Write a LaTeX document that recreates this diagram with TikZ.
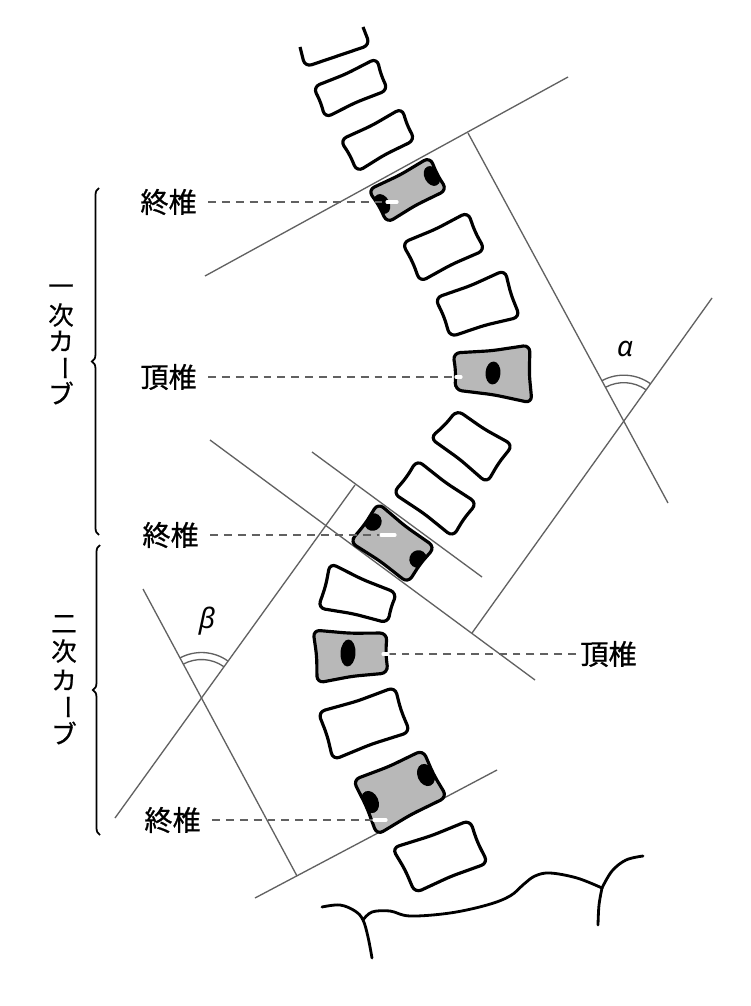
\documentclass[tikz,border=0pt]{standalone}
\usepackage{fontspec}
\newfontfamily\jp{Noto Sans CJK JP}[FakeBold=0.8]
\newfontfamily\grk{Noto Sans}
\usetikzlibrary{calc,decorations.pathreplacing}
\definecolor{vshade}{gray}{0.72}
\definecolor{thin}{gray}{0.38}
\newcommand\vbar{\rotatebox[origin=c]{-90}{ー}}
% white vertebra: four corners, clockwise on the page
\newcommand\wv[4]{\draw[vline,fill=white] ($(#4)!.5!(#1)!1pt!-90:(#1)$) -- (#1) -- ($(#1)!.5!(#2)!1pt!-90:(#2)$) -- (#2) -- ($(#2)!.5!(#3)!1pt!-90:(#3)$) -- (#3) -- ($(#3)!.5!(#4)!1pt!-90:(#4)$) -- (#4) -- cycle;}
% shaded vertebra: four corners + spot code (clipped)
\newcommand\sv[5]{%
\fill[vshade,rounded corners=4pt] ($(#4)!.5!(#1)!1pt!-90:(#1)$) -- (#1) -- ($(#1)!.5!(#2)!1pt!-90:(#2)$) -- (#2) -- ($(#2)!.5!(#3)!1pt!-90:(#3)$) -- (#3) -- ($(#3)!.5!(#4)!1pt!-90:(#4)$) -- (#4) -- cycle;
\begin{scope}
\clip[rounded corners=4pt] ($(#4)!.5!(#1)!1pt!-90:(#1)$) -- (#1) -- ($(#1)!.5!(#2)!1pt!-90:(#2)$) -- (#2) -- ($(#2)!.5!(#3)!1pt!-90:(#3)$) -- (#3) -- ($(#3)!.5!(#4)!1pt!-90:(#4)$) -- (#4) -- cycle;
#5
\end{scope}
\draw[vline] ($(#4)!.5!(#1)!1pt!-90:(#1)$) -- (#1) -- ($(#1)!.5!(#2)!1pt!-90:(#2)$) -- (#2) -- ($(#2)!.5!(#3)!1pt!-90:(#3)$) -- (#3) -- ($(#3)!.5!(#4)!1pt!-90:(#4)$) -- (#4) -- cycle;}
\begin{document}
\begin{tikzpicture}[x=0.02cm,y=-0.02cm,
  vline/.style={line width=1.8pt,rounded corners=4pt,line join=round},
  thinl/.style={draw=thin,line width=0.75pt},
  lead/.style={draw=thin,line width=0.9pt,dash pattern=on 4.5pt off 3.4pt},
  endmark/.style={draw=white,line width=1.8pt,line cap=round},
  lab/.style={font=\jp\fontsize{16}{18}\selectfont,inner sep=0pt},
  vch/.style={font=\jp\fontsize{14.5}{16}\selectfont,inner sep=0pt},
  grklab/.style={font=\grk\itshape\fontsize{16}{18}\selectfont,inner sep=0pt},
  brc/.style={decorate,decoration={brace,amplitude=4pt},line width=1pt},
  spot/.style={fill=black}]
\useasboundingbox (0,0) rectangle (750,1006);
\fill[white] (0,0) rectangle (750,1006);

% ---- construction lines ----
\coordinate (A1) at (205,276); \coordinate (A2) at (568,77);
\coordinate (PA1) at (468,133); \coordinate (PA2) at (668,503);
\coordinate (B1a) at (210,440); \coordinate (B1b) at (535,680);
\coordinate (PB1a) at (472,633); \coordinate (PB1b) at (712,298);
\coordinate (B2a) at (312,452); \coordinate (B2b) at (482,577);
\coordinate (PB2a) at (355,485); \coordinate (PB2b) at (115,818);
\coordinate (Ca) at (255,898); \coordinate (Cb) at (497,770);
\coordinate (PCa) at (297,876); \coordinate (PCb) at (143,589);
\draw[thinl] (A1) -- (A2);
\draw[thinl] (PA1) -- (PA2);
\draw[thinl] (B1a) -- (B1b);
\draw[thinl] (PB1a) -- (PB1b);
\draw[thinl] (B2a) -- (B2b);
\draw[thinl] (PB2a) -- (PB2b);
\draw[thinl] (Ca) -- (Cb);
\draw[thinl] (PCa) -- (PCb);
\coordinate (alpha) at (intersection of PA1--PA2 and PB1a--PB1b);
\coordinate (beta) at (intersection of PB2a--PB2b and PCa--PCb);
\draw[thinl] (alpha) ++(54.5:0.92cm) arc[start angle=54.5,end angle=118.1,radius=0.92cm];
\draw[thinl] (alpha) ++(54.5:0.77cm) arc[start angle=54.5,end angle=118.1,radius=0.77cm];
\draw[thinl] (beta) ++(54.2:0.91cm) arc[start angle=54.2,end angle=118.6,radius=0.91cm];
\draw[thinl] (beta) ++(54.2:0.77cm) arc[start angle=54.2,end angle=118.6,radius=0.77cm];
\node[grklab] (la) at (625,349) {α};
\node[grklab] (lb) at (207,621) {β};

% ---- vertebrae ----
\draw[vline] (300,47) -- (305,67) -- (370,45) -- (363,27);
\wv{313,87}{377,58}{388,90}{325,118}
\wv{340,140}{402,108}{415,140}{357,172}
\sv{368,190}{430,157}{447,190}{387,223}{%
  \fill[spot,rotate around={28:(432,176)}] (432,176) ellipse[x radius=0.15cm,y radius=0.21cm];
  \fill[spot,rotate around={28:(382,204)}] (382,204) ellipse[x radius=0.15cm,y radius=0.21cm];}
\wv{402,243}{468,212}{485,250}{420,282}
\wv{435,298}{505,270}{520,317}{450,337}
\sv{453,353}{530,345}{532,403}{455,390}{%
  \fill[spot,rotate around={-4:(493,373)}] (493,373) ellipse[x radius=0.15cm,y radius=0.23cm];}
\wv{430,438}{457,410}{513,445}{487,483}
\wv{393,493}{417,460}{477,503}{453,537}
\sv{350,542}{378,503}{435,547}{408,583}{%
  \fill[spot,rotate around={-37:(373,522)}] (373,522) ellipse[x radius=0.17cm,y radius=0.18cm];
  \fill[spot,rotate around={-37:(418,559)}] (418,559) ellipse[x radius=0.17cm,y radius=0.18cm];}
\wv{330,563}{397,593}{388,623}{318,608}
\sv{313,630}{387,633}{388,673}{317,683}{%
  \fill[spot,rotate around={-3:(348,653)}] (348,653) ellipse[x radius=0.15cm,y radius=0.27cm];}
\wv{318,712}{395,687}{410,732}{333,760}
\sv{353,780}{423,750}{447,797}{377,835}{%
  \fill[spot,rotate around={23:(370,802)}] (370,802) ellipse[x radius=0.17cm,y radius=0.23cm];
  \fill[spot,rotate around={23:(426,775)}] (426,775) ellipse[x radius=0.17cm,y radius=0.23cm];}
\wv{392,848}{470,820}{488,863}{415,893}

% ---- pelvis ----
\draw[line width=1.6pt,line cap=round] plot[smooth,tension=0.6] coordinates {(322,907) (340,905) (355,911) (363,920) (368,937) (372,958)};
\draw[line width=1.6pt,line cap=round] plot[smooth,tension=0.6] coordinates {(363,920) (372,912) (390,911) (410,916) (450,913) (487,905) (510,896) (524,884) (535,876) (550,873) (577,878) (602,888)};
\draw[line width=1.6pt,line cap=round] plot[smooth,tension=0.6] coordinates {(602,888) (612,871) (626,860) (643,856)};
\draw[line width=1.6pt,line cap=round] plot[smooth,tension=0.6] coordinates {(602,888) (599,905) (598,925)};

% ---- labels and leaders ----
\coordinate (e1) at (397,202);
\coordinate (e2) at (461,377);
\coordinate (e3) at (395,535);
\coordinate (e4) at (383,654);
\coordinate (e5) at (386,820);
\node[lab,anchor=east] (l1) at (197,202) {終椎};
\node[lab,anchor=east] (l2) at (197,377) {頂椎};
\node[lab,anchor=east] (l3) at (199,535) {終椎};
\node[lab,anchor=west] (l4) at (580,654) {頂椎};
\node[lab,anchor=east] (l5) at (201,820) {終椎};
\draw[lead] (l1.east) ++(11,0) -- (e1);
\draw[lead] (l2.east) ++(11,0) -- (e2);
\draw[lead] (l3.east) ++(11,0) -- (e3);
\draw[lead] (l4.west) ++(-4,0) -- (e4);
\draw[lead] (l5.east) ++(11,0) -- (e5);
\draw[endmark] (e1) -- ++(-10,0);
\draw[endmark] (e2) -- ++(-5,0);
\draw[endmark] (e3) -- ++(-14,0);
\draw[endmark] (e4) -- ++(5,0);
\draw[endmark] (e5) -- ++(-12,0);

% ---- braces and vertical captions ----
\draw[brc] (99,535) -- (99,188);
\draw[brc] (100,835) -- (100,545);
\node[vch] (c11) at (61,290) {一};
\node[vch] (c12) at (61,315) {次};
\node[vch] (c13) at (61,341) {カ};
\node[vch] (c14) at (61,368) {\vbar};
\node[vch] (c15) at (61,393) {ブ};
\node[vch] (c21) at (64,624) {二};
\node[vch] (c22) at (64,651) {次};
\node[vch] (c23) at (64,680) {カ};
\node[vch] (c24) at (64,707) {\vbar};
\node[vch] (c25) at (64,733) {ブ};
\end{tikzpicture}
\end{document}
